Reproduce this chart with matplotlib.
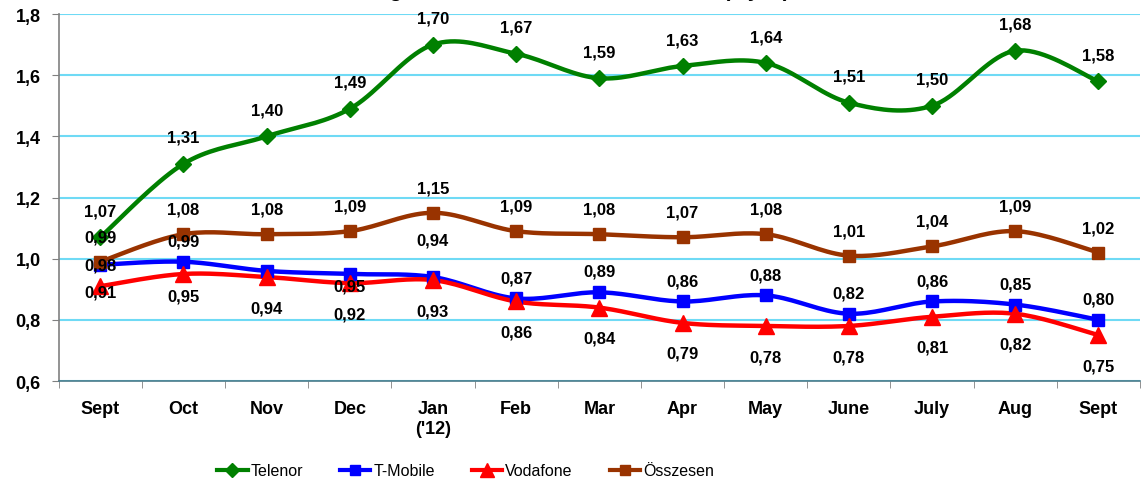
import numpy as np
import matplotlib.pyplot as plt
from matplotlib.lines import Line2D

plt.rcParams['font.family'] = ['Liberation Sans', 'DejaVu Sans']

# Data
months = ['Sept', 'Oct', 'Nov', 'Dec', "Jan\n('12)", 'Feb', 'Mar', 'Apr', 'May',
          'June', 'July', 'Aug', 'Sept']
telenor = [1.07, 1.31, 1.40, 1.49, 1.70, 1.67, 1.59, 1.63, 1.64, 1.51, 1.50, 1.68, 1.58]
tmobile = [0.98, 0.99, 0.96, 0.95, 0.94, 0.87, 0.89, 0.86, 0.88, 0.82, 0.86, 0.85, 0.80]
vodafone = [0.91, 0.95, 0.94, 0.92, 0.93, 0.86, 0.84, 0.79, 0.78, 0.78, 0.81, 0.82, 0.75]
osszesen = [0.99, 1.08, 1.08, 1.09, 1.15, 1.09, 1.08, 1.07, 1.08, 1.01, 1.04, 1.09, 1.02]
tmobile_hidden = {2}  # no label shown for Nov


def smooth(x, y, n=20):
    # Catmull-Rom style bezier, like the smoothed lines in Excel
    x = np.asarray(x, float)
    y = np.asarray(y, float)
    px = np.concatenate([[x[0]], x, [x[-1]]])
    py = np.concatenate([[y[0]], y, [y[-1]]])
    xs, ys = [], []
    t = np.linspace(0, 1, n)
    for i in range(1, len(px) - 2):
        p0 = np.array([px[i], py[i]])
        p3 = np.array([px[i + 1], py[i + 1]])
        c1 = p0 + (np.array([px[i + 1], py[i + 1]]) - np.array([px[i - 1], py[i - 1]])) / 6
        c2 = p3 - (np.array([px[i + 2], py[i + 2]]) - np.array([px[i], py[i]])) / 6
        b = ((1 - t) ** 3)[:, None] * p0 + (3 * (1 - t) ** 2 * t)[:, None] * c1 \
            + (3 * (1 - t) * t ** 2)[:, None] * c2 + (t ** 3)[:, None] * p3
        xs.extend(b[:, 0])
        ys.extend(b[:, 1])
    return np.array(xs), np.array(ys)


fig = plt.figure(figsize=(11.44, 4.81), dpi=100)
ax = fig.add_axes([0.0513, 0.2058, 0.9452, 0.763])

x = np.arange(len(months))
series = [
    ('Telenor', telenor, '#008000', 'D', 8),
    ('T-Mobile', tmobile, '#0000FF', 's', 8),
    ('Vodafone', vodafone, '#FF0000', '^', 11),
    ('Összesen', osszesen, '#993300', 's', 8),
]

handles = []
for name, vals, col, mk, ms in series:
    sx, sy = smooth(x, vals)
    ax.plot(sx, sy, color=col, lw=3.2, solid_capstyle='round', zorder=3)
    ax.plot(x, vals, ls='none', marker=mk, ms=ms, color=col, zorder=4)
    handles.append(Line2D([], [], color=col, lw=3, marker=mk, ms=ms - 1))

lab_kw = dict(ha='center', va='center', fontsize=12, fontweight='bold',
              textcoords='offset points', zorder=5)
for i in x:
    ax.annotate(f'{telenor[i]:.2f}'.replace('.', ','), (i, telenor[i]), xytext=(0, 19), **lab_kw)
    ax.annotate(f'{osszesen[i]:.2f}'.replace('.', ','), (i, osszesen[i]), xytext=(0, 18), **lab_kw)
    if i not in tmobile_hidden:
        dy = 15
        if i == 0:
            dy = 0
        elif i == 3:
            dy = -9
        elif i == 4:
            dy = 27
        ax.annotate(f'{tmobile[i]:.2f}'.replace('.', ','), (i, tmobile[i]), xytext=(0, dy), **lab_kw)
    dy = -22
    if i == 0:
        dy = -4
    elif i == 1:
        dy = -16
    ax.annotate(f'{vodafone[i]:.2f}'.replace('.', ','), (i, vodafone[i]), xytext=(0, dy), **lab_kw)

ax.set_xlim(-0.5, len(months) - 0.5)
ax.set_ylim(0.6, 1.8)
ax.set_yticks(np.arange(0.6, 1.81, 0.2))
ax.set_yticklabels([f'{v:.1f}'.replace('.', ',') for v in np.arange(0.6, 1.81, 0.2)],
                   fontsize=13, fontweight='bold')
ax.set_xticks(x)
ax.set_xticklabels(months, fontsize=13, fontweight='bold')
ax.set_xticks(np.arange(-0.5, len(months), 1), minor=True)
ax.tick_params(axis='x', which='major', length=0, pad=14)
ax.tick_params(axis='x', which='minor', length=5, color='#808080')
ax.tick_params(axis='y', length=5, color='#808080', pad=8)
ax.grid(axis='y', color='#6FDAF5', lw=1.5, zorder=0)
for s in ['top', 'right']:
    ax.spines[s].set_visible(False)
ax.spines['left'].set_color('#808080')
ax.spines['bottom'].set_color('#4A7A8A')
ax.spines['left'].set_linewidth(1.2)
ax.spines['bottom'].set_linewidth(1.2)

# title is clipped at the top edge in the original
fig.text(0.49, 1 + 3 / 481, 'Average revenue on mobile data traffic (€/yes)',
         ha='center', va='baseline', fontsize=15, fontweight='bold')

fig.legend(handles, [s[0] for s in series], loc='center', bbox_to_anchor=(0.407, 0.019),
           ncol=4, frameon=False, fontsize=11.5, handlelength=1.9, columnspacing=2.3,
           handletextpad=0.2)

fig.savefig('out.png', dpi=100)
